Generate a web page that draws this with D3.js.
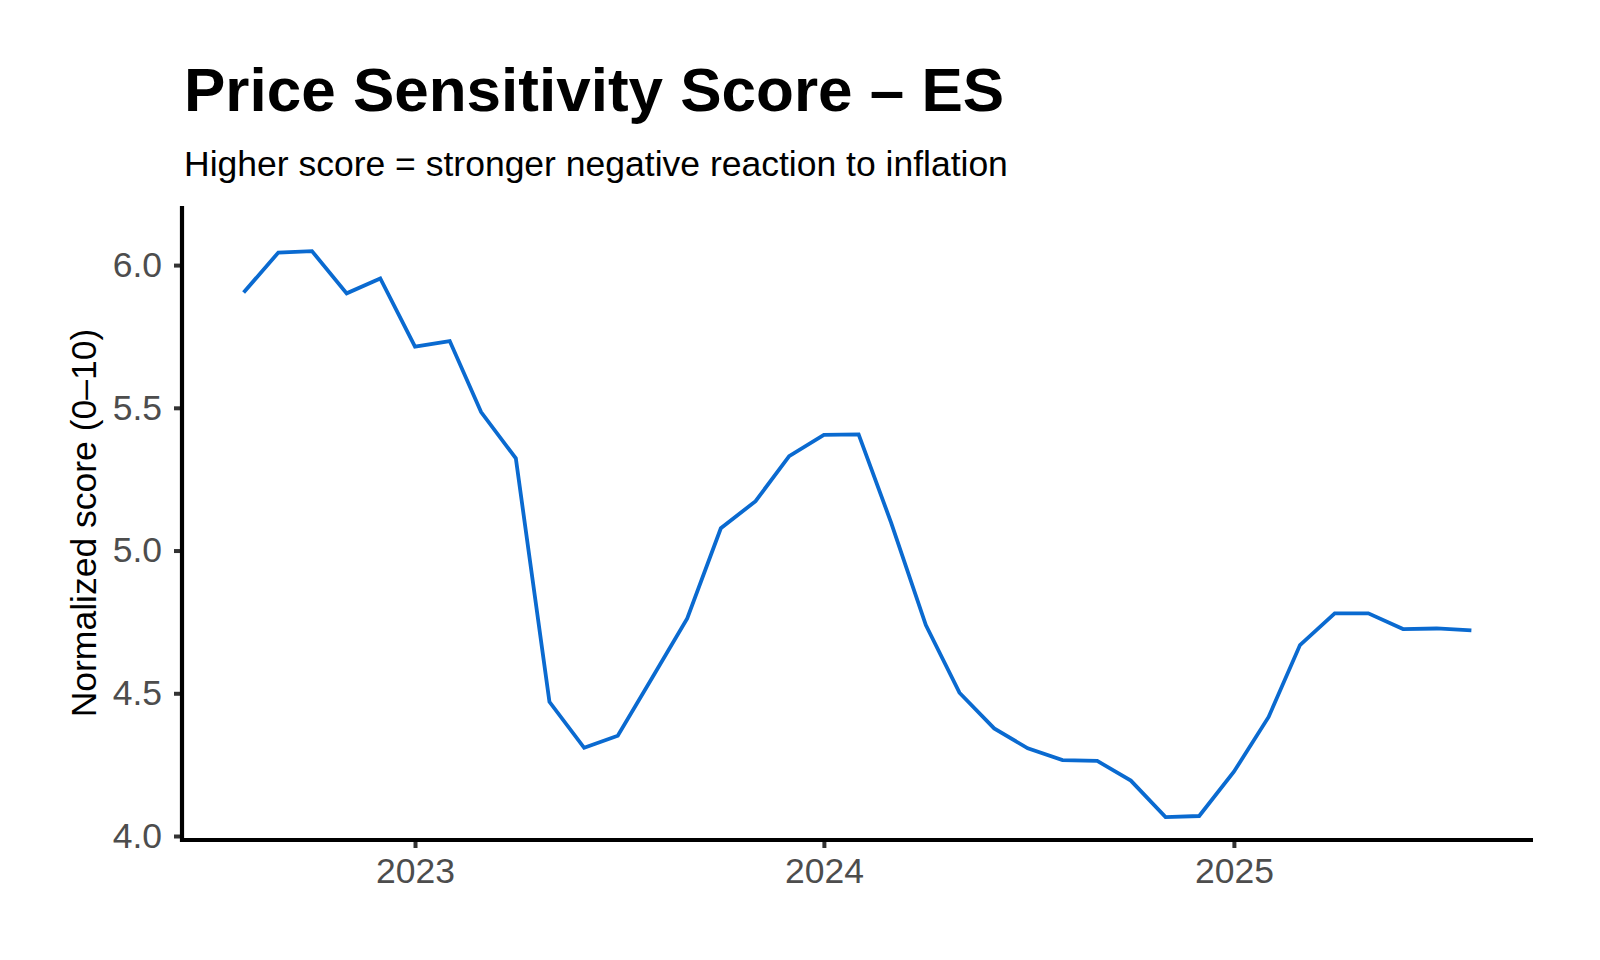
<!DOCTYPE html>
<html>
<head>
<meta charset="utf-8">
<script src="https://cdn.jsdelivr.net/npm/d3@7"></script>
<style>
  body { margin: 0; background: white; }
  text { font-family: "Liberation Sans", Arial, Helvetica, sans-serif; }
</style>
</head>
<body>
<div id="container"></div>
<script>
let w = 1600;
let h = 960;

// DATA (monthly, Aug 2022 - Aug 2025)
let startMonth = "2022-08-01";
let scores = [
  5.904, 6.044, 6.049, 5.901, 5.953,                                    // 2022 Aug-Dec
  5.714, 5.734, 5.485, 5.323, 4.470, 4.309, 4.351, 4.556, 4.762, 5.078, 5.173, 5.331, // 2023
  5.405, 5.407, 5.098, 4.739, 4.502, 4.377, 4.307, 4.266, 4.263, 4.194, 4.066, 4.070, // 2024
  4.225, 4.417, 4.669, 4.780, 4.780, 4.725, 4.727, 4.720              // 2025 Jan-Aug
];
let yTicks = [4.0, 4.5, 5.0, 5.5, 6.0];
let xTickYears = ["2023-01-01", "2024-01-01", "2025-01-01"];

let titleText = "Price Sensitivity Score \u2013 ES";
let subtitleText = "Higher score = stronger negative reaction to inflation";
let yLabelText = "Normalized score (0\u201310)";

let parse = d3.timeParse("%Y-%m-%d");
let start = parse(startMonth);
let data = scores.map(function(v, i){
  return { date: d3.timeMonth.offset(start, i), value: v };
});

// SVG
let viz = d3.select("#container").append("svg")
    .attr("width", w)
    .attr("height", h)
    .style("background-color", "white")
;

let plotL = 182, plotR = 1533, plotT = 206, plotB = 840;

// SCALES
let xScale = d3.scaleTime()
    .domain([parse("2022-06-07"), parse("2025-09-25")])
    .range([plotL, plotR]);
let yScale = d3.scaleLinear()
    .domain([3.986, 6.207])
    .range([plotB, plotT]);

// LINE
let lineMaker = d3.line()
    .x(function(d){ return xScale(d.date); })
    .y(function(d){ return yScale(d.value); });

viz.append("path")
    .datum(data)
    .attr("d", lineMaker)
    .attr("fill", "none")
    .attr("stroke", "#0a6ad0")
    .attr("stroke-width", 3.8)
    .attr("stroke-linejoin", "miter")
;

// AXES
let xAxis = d3.axisBottom(xScale)
    .tickValues(xTickYears.map(parse))
    .tickFormat(d3.timeFormat("%Y"))
    .tickSize(8)
    .tickPadding(10);
let yAxis = d3.axisLeft(yScale)
    .tickValues(yTicks)
    .tickFormat(d3.format(".1f"))
    .tickSize(8)
    .tickPadding(12);

let xg = viz.append("g").attr("transform", "translate(0," + plotB + ")").call(xAxis);
let yg = viz.append("g").attr("transform", "translate(" + plotL + ",0)").call(yAxis);

[xg, yg].forEach(function(g){
  g.select(".domain").remove();
  g.selectAll(".tick line").attr("stroke", "#333333").attr("stroke-width", 4);
  g.selectAll(".tick text")
    .attr("fill", "#4d4d4d")
    .style("font-size", "35.5px")
    .style("font-family", "'Liberation Sans', Arial, sans-serif");
});

// axis lines drawn over ticks
viz.append("line")
    .attr("x1", plotL).attr("x2", plotR)
    .attr("y1", plotB).attr("y2", plotB)
    .attr("stroke", "black").attr("stroke-width", 4.2);
viz.append("line")
    .attr("x1", plotL).attr("x2", plotL)
    .attr("y1", plotT).attr("y2", plotB + 2)
    .attr("stroke", "black").attr("stroke-width", 4.2);

// TEXT
viz.append("text")
    .attr("x", 184).attr("y", 111)
    .attr("fill", "black")
    .style("font-size", "62px")
    .style("font-weight", "bold")
    .text(titleText);

viz.append("text")
    .attr("x", 184).attr("y", 176)
    .attr("fill", "black")
    .style("font-size", "35.5px")
    .text(subtitleText);

viz.append("text")
    .attr("transform", "translate(96,523) rotate(-90)")
    .attr("text-anchor", "middle")
    .attr("fill", "black")
    .style("font-size", "35.5px")
    .text(yLabelText);
</script>
</body>
</html>
